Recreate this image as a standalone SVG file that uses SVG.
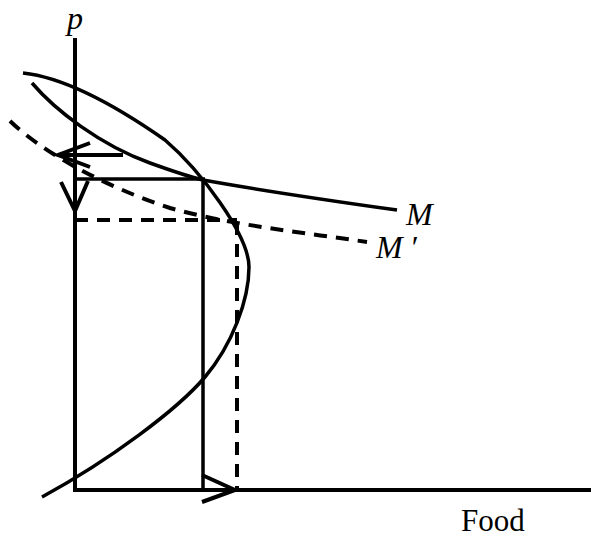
<svg xmlns="http://www.w3.org/2000/svg" width="591" height="538" viewBox="0 0 591 538">
<style>
.ln{fill:none;stroke:#000;stroke-width:3.5;stroke-linecap:butt}
.ax{fill:none;stroke:#000;stroke-width:4}
.ds{fill:none;stroke:#000;stroke-width:4;stroke-dasharray:13 9}
.ar{fill:none;stroke:#000;stroke-width:4;stroke-linecap:butt;stroke-linejoin:miter}
.lab{font-family:"Liberation Serif","Times New Roman",serif;font-style:italic;fill:#000}
.txt{font-family:"Liberation Serif","Times New Roman",serif;fill:#000}
</style>
<rect width="591" height="538" fill="#fff"/>
<g id="axes">
<line class="ax" x1="75" y1="38" x2="75" y2="492"/>
<line class="ax" x1="73" y1="490" x2="591" y2="490"/>
</g>
<g id="curve-parabola">
<path class="ln" d="M23,73 C70,78 125,112 165,140 C200,170 249,235 249,267 C249,300 232,345 205,377 S110,460 42,497"/>
</g>
<g id="curve-M">
<path class="ln" d="M32,83 C55,110 100,145 150,163 C175,172 190,177 203,180 C270,192 340,202 397,210"/>
</g>
<g id="curve-Mprime">
<path class="ds" d="M10,121 C40,150 100,185 170,208 C230,225 300,232 367,242"/>
</g>
<g id="connectors">
<line class="ln" x1="75" y1="179" x2="205" y2="179"/>
<line class="ln" x1="203" y1="179" x2="203" y2="490"/>
<line class="ds" x1="75" y1="220" x2="237" y2="220"/>
<line class="ds" x1="237" y1="222" x2="237" y2="490"/>
<line class="ar" x1="123" y1="155" x2="60" y2="155"/>
<polyline class="ar" points="90,143 58,155 90,167"/>
<polyline class="ar" points="61,182 75,211 88,181"/>
<polyline class="ar" points="202,475 235,490 202,502"/>
</g>
<g id="labels">
<text class="lab" x="67" y="29" font-size="32">p</text>
<text class="lab" x="406" y="225" font-size="32">M</text>
<text class="lab" x="376" y="258" font-size="32">M<tspan dx="7">′</tspan></text>
<text class="txt" x="461" y="531" font-size="31">Food</text>
</g>
</svg>
